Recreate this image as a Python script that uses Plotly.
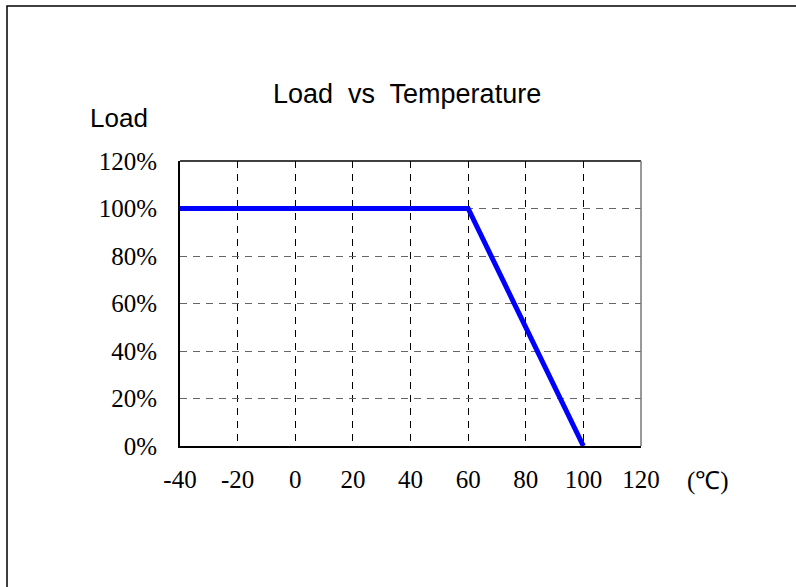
import plotly.graph_objects as go

temps = [-40, 60, 100]
loads = [100, 100, 0]
x_ticks = [-40, -20, 0, 20, 40, 60, 80, 100, 120]
y_ticks = [0, 20, 40, 60, 80, 100, 120]
y_labels = [f"{v}%" for v in y_ticks]
x_labels = [str(v) for v in x_ticks]

L, R, T, B = 180, 155, 161, 141
W, H = 796, 587
pw, ph = W - L - R, H - T - B

def px(x):
    return (x - L) / pw

def py(y):
    return (H - B - y) / ph

fig = go.Figure()
fig.add_trace(go.Scatter(x=temps, y=loads, mode="lines",
                         line=dict(color="#0000FF", width=5), showlegend=False,
                         cliponaxis=False))

serif = "Liberation Serif"
sans = "Liberation Sans"

fig.update_layout(
    width=W, height=H,
    margin=dict(l=L, r=R, t=T, b=B),
    paper_bgcolor="white", plot_bgcolor="white",
    xaxis=dict(range=[-40, 120], tickvals=x_ticks, ticktext=x_labels,
               showgrid=True, gridcolor="#000000", griddash="7px,6px", gridwidth=1,
               showline=True, linecolor="black", linewidth=2, mirror=False,
               zeroline=False, ticks="", ticklabelstandoff=10,
               tickfont=dict(family=serif, size=25, color="black")),
    yaxis=dict(range=[0, 120], tickvals=y_ticks, ticktext=y_labels,
               showgrid=True, gridcolor="#666666", griddash="7px,6px", gridwidth=1,
               showline=True, linecolor="black", linewidth=2,
               zeroline=False, ticks="", ticklabelstandoff=16,
               tickfont=dict(family=serif, size=25, color="black")),
    shapes=[
        dict(type="line", xref="paper", yref="paper", x0=0, x1=1, y0=1, y1=1,
             line=dict(color="black", width=1.5)),
        dict(type="line", xref="paper", yref="paper", x0=1, x1=1, y0=0, y1=1,
             line=dict(color="#777777", width=1.5)),
        dict(type="rect", xref="paper", yref="paper",
             x0=px(7), x1=px(810), y0=py(6), y1=py(600),
             line=dict(color="black", width=1.5), fillcolor="rgba(0,0,0,0)"),
    ],
    annotations=[
        dict(text="Load  vs  Temperature", xref="paper", yref="paper",
             x=px(406.5), y=py(94), xanchor="center", yanchor="middle",
             showarrow=False, font=dict(family=sans, size=27, color="black")),
        dict(text="Load", xref="paper", yref="paper",
             x=px(119), y=py(118), xanchor="center", yanchor="middle",
             showarrow=False, font=dict(family=sans, size=26, color="black")),
        dict(text="(℃)", xref="paper", yref="paper",
             x=px(708), y=py(481), xanchor="center", yanchor="middle",
             showarrow=False, font=dict(family=serif, size=25, color="black")),
    ],
)

fig.write_html("out.html", config={"displayModeBar": False},
               post_script="document.body.style.margin='0';document.body.style.overflow='hidden';")
